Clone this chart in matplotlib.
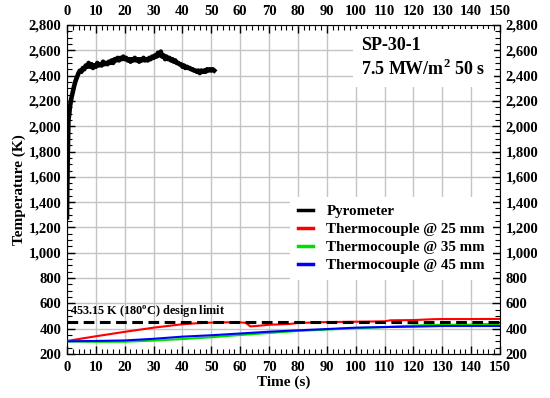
import matplotlib.pyplot as plt
import numpy as np

plt.rcParams['font.family'] = ['Liberation Serif', 'DejaVu Serif']
plt.rcParams['font.weight'] = 'bold'
plt.rcParams['mathtext.fontset'] = 'custom'
plt.rcParams['mathtext.rm'] = 'Liberation Serif:bold'
plt.rcParams['mathtext.bf'] = 'Liberation Serif:bold'

# pyrometer reading (s, K)
pyro_t = [0, 0.1, 0.3, 0.5, 0.8, 1.0, 1.5, 2.0, 2.5, 3.0, 3.5, 4.0, 4.5, 5.0,
          5.5, 6.0, 6.5, 7.0, 7.5, 8.0, 8.5, 9.0, 9.5, 10, 10.5, 11, 11.5, 12,
          12.5, 13, 13.5, 14, 14.5, 15, 15.5, 16, 16.5, 17, 17.5, 18, 18.5, 19,
          19.5, 20, 20.5, 21, 21.5, 22, 22.5, 23, 23.5, 24, 24.5, 25, 25.5, 26,
          26.5, 27, 27.5, 28, 28.5, 29, 29.5, 30, 30.5, 31, 31.5, 32, 32.5, 33,
          33.5, 34, 34.5, 35, 35.5, 36, 36.5, 37, 37.5, 38, 38.5, 39, 39.5, 40,
          40.5, 41, 41.5, 42, 42.5, 43, 43.5, 44, 44.5, 45, 45.5, 46, 46.5, 47,
          47.5, 48, 48.5, 49, 49.5, 50, 50.5, 51]
pyro_T = [1280, 1500, 1800, 2050, 2100, 2150, 2220, 2270, 2320, 2360, 2390, 2420, 2440, 2430,
          2460, 2450, 2480, 2470, 2500, 2470, 2490, 2460, 2480, 2470, 2500, 2480, 2490, 2480,
          2510, 2490, 2500, 2490, 2510, 2500, 2520, 2500, 2530, 2520, 2540, 2520, 2540, 2530,
          2550, 2530, 2540, 2520, 2530, 2510, 2530, 2520, 2540, 2520, 2530, 2510, 2530, 2520,
          2540, 2520, 2530, 2520, 2540, 2530, 2550, 2540, 2560, 2550, 2580, 2560, 2590, 2550,
          2560, 2530, 2550, 2530, 2540, 2520, 2530, 2510, 2520, 2500, 2500, 2490, 2490, 2470,
          2480, 2460, 2470, 2460, 2460, 2450, 2450, 2440, 2440, 2430, 2440, 2420, 2440, 2430,
          2440, 2430, 2450, 2440, 2450, 2440, 2450, 2440]

# thermocouples
tc25_t = [0, 10, 20, 30, 40, 45, 50, 55, 60, 62, 63.5, 66, 70, 77, 80, 90, 100, 110, 112, 120, 127, 130, 140, 150]
tc25_T = [303, 340, 375, 408, 435, 443, 448, 450, 450, 446, 418, 422, 431, 437, 445, 452, 455, 458, 466, 468, 475, 476, 476, 477]
tc35_t = [0, 10, 20, 30, 40, 50, 60, 70, 80, 90, 100, 110, 120, 127, 140, 145, 150]
tc35_T = [300, 296, 297, 306, 318, 332, 350, 366, 382, 393, 404, 412, 425, 430, 432, 437, 437]
tc45_t = [0, 10, 20, 30, 40, 50, 60, 70, 77, 90, 100, 110, 120, 130, 140, 150]
tc45_T = [300, 303, 307, 320, 337, 348, 362, 376, 384, 397, 408, 413, 416, 421, 421, 421]

design_limit = 453.15

fig = plt.figure(figsize=(5.5, 3.98), dpi=100)
ax = fig.add_axes([0.1218, 0.1106, 0.7873, 0.8266])

ax.plot(pyro_t, pyro_T, color='black', lw=3.3, label='Pyrometer', zorder=4)
ax.plot(tc25_t, tc25_T, color='#ff0000', lw=1.5, label='Thermocouple @ 25 mm', zorder=3)
ax.plot(tc35_t, tc35_T, color='#00e000', lw=1.5, label='Thermocouple @ 35 mm', zorder=3)
ax.plot(tc45_t, tc45_T, color='#0000ff', lw=1.5, label='Thermocouple @ 45 mm', zorder=3)
ax.axhline(design_limit, color='black', lw=2.2, dashes=(3.5, 1.8), zorder=5)
ax.text(1, 468, '453.15 K (180$^{\\mathrm{o}}$C) design limit', fontsize=8.8,
        fontweight='bold', va='bottom', ha='left', zorder=6)

ax.set_xlim(0, 150)
ax.set_ylim(200, 2800)
ax.set_xticks(np.arange(0, 151, 10))
ax.set_xticks(np.arange(0, 151, 2), minor=True)
ax.set_yticks(np.arange(200, 2801, 200))
ax.set_yticks(np.arange(200, 2801, 50), minor=True)
ax.set_yticklabels(['{:,}'.format(v) for v in range(200, 2801, 200)])
ax.tick_params(which='both', direction='in', top=True, right=True,
               labeltop=True, labelright=True, labelsize=10.5)
ax.tick_params(axis='x', which='major', pad=5)
ax.tick_params(axis='y', which='major', pad=4)
ax.tick_params(which='major', length=6, width=1)
ax.tick_params(which='minor', length=3.5, width=0.8)
for lab in ax.get_xticklabels() + ax.get_yticklabels():
    lab.set_fontweight('bold')
ax.grid(True, which='major', color='#c4c4c4', lw=1.0)
ax.set_axisbelow(True)

ax.set_xlabel('Time (s)', fontsize=11, fontweight='bold', labelpad=1)
ax.set_ylabel('Temperature (K)', fontsize=11, fontweight='bold', labelpad=2)

ax.text(0.68, 0.962, 'SP-30-1\n7.5 MW/m$^{2}$ 50 s', transform=ax.transAxes,
        fontsize=13, fontweight='bold', va='top', ha='left', linespacing=1.25,
        bbox=dict(facecolor='white', edgecolor='none', pad=6), zorder=6)

leg = ax.legend(loc='lower right', bbox_to_anchor=(1.0, 0.203), fontsize=10.8,
                frameon=True, fancybox=False, framealpha=1, edgecolor='none',
                handlelength=1.0, handletextpad=0.9, labelspacing=0.3,
                borderpad=0.5)
for line in leg.get_lines():
    line.set_linewidth(2.5)
for t in leg.get_texts():
    t.set_fontweight('bold')

fig.savefig('out.png', dpi=100)
